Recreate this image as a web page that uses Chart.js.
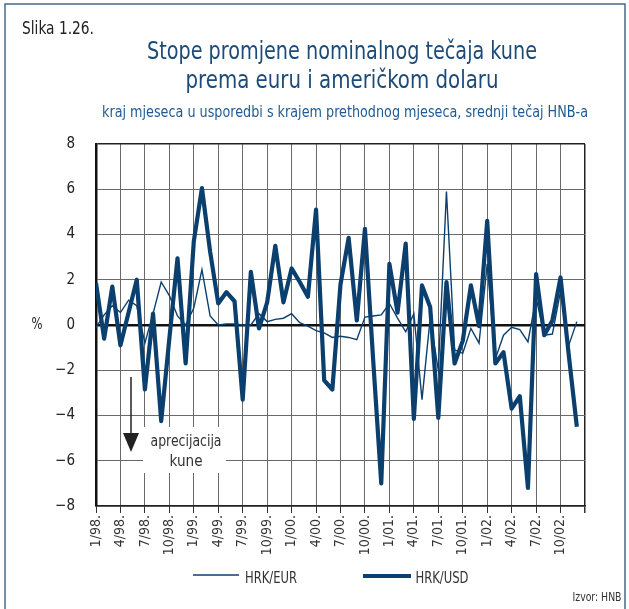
<!DOCTYPE html>
<html>
<head>
<meta charset="utf-8">
<script src="https://cdn.jsdelivr.net/npm/chart.js@4.4.1/dist/chart.umd.min.js"></script>
<style>
  html, body { margin: 0; padding: 0; background: #fff; }
  #wrap { position: relative; width: 629px; height: 609px; }
</style>
</head>
<body>
<div id="wrap"><canvas id="chart" width="629" height="609"></canvas></div>
<script>
// quarter tick labels (every 3rd month, last slot = 1/03 without label)
const tickLabels = ['1/98.', '4/98.', '7/98.', '10/98.', '1/99.', '4/99.', '7/99.', '10/99.',
    '1/00.', '4/00.', '7/00.', '10/00.', '1/01.', '4/01.', '7/01.', '10/01.',
    '1/02.', '4/02.', '7/02.', '10/02.', ''];

// monthly change, %, 1/98 - 12/02
const hrkEur = [-0.1, 0.45, 0.85, 0.55, 1.1, 0.85, -0.8, 0.5, 1.9, 1.3,
    0.4, 0.0, 0.75, 2.45, 0.4, 0.0, 0.05, 0.05, 0.0, 0.0,
    0.5, 0.15, 0.25, 0.3, 0.5, 0.1, -0.05, -0.25, -0.35, -0.55,
    -0.5, -0.55, -0.65, 0.35, 0.4, 0.45, 0.95, 0.3, -0.3, 0.5,
    -3.3, 0.3, -2.0, 5.9, -1.1, -1.25, -0.15, -0.8, 2.7, -1.5,
    -0.45, -0.1, -0.2, -0.75, 1.2, -0.45, -0.4, 1.5, -0.9, 0.15];

const hrkUsd = [1.85, -0.6, 1.7, -0.9, 0.55, 2.0, -2.85, 0.5, -4.25, -0.6,
    2.95, -1.7, 3.7, 6.05, 3.25, 0.95, 1.45, 1.05, -3.3, 2.35,
    -0.15, 1.0, 3.5, 1.0, 2.5, 1.9, 1.25, 5.1, -2.45, -2.85,
    1.8, 3.85, 0.2, 4.25, -1.5, -7.0, 2.7, 0.55, 3.6, -4.15,
    1.75, 0.8, -4.1, 1.9, -1.7, -0.7, 1.75, -0.05, 4.6, -1.7,
    -1.2, -3.7, -3.15, -7.2, 2.25, -0.45, 0.2, 2.1, -1.3, -4.5];

const seriesNames = ['HRK/EUR', 'HRK/USD'];
const lineColor = '#0b3f6e';
const narrow = "'Liberation Sans Narrow', 'DejaVu Sans Condensed', 'Roboto', sans-serif";

function toPoints(arr) {
    return arr.map((v, i) => ({ x: i, y: v }));
}

// draw text squeezed horizontally to a target width
function fitText(ctx, text, cx, cy, width, font, color) {
    ctx.save();
    ctx.font = font;
    ctx.fillStyle = color;
    ctx.textAlign = 'center';
    ctx.textBaseline = 'middle';
    const w = ctx.measureText(text).width;
    const s = width / w;
    ctx.translate(cx, cy);
    ctx.scale(s, 1);
    ctx.fillText(text, 0, 0);
    ctx.restore();
}

const decorPlugin = {
    id: 'decor',
    beforeDatasetsDraw(chart) {
        const ctx = chart.ctx;
        // annotation box over the grid
        ctx.save();
        ctx.fillStyle = '#fff';
        ctx.fillRect(143, 427, 83, 46);
        fitText(ctx, 'aprecijacija', 186, 442, 71, '16px ' + narrow, '#333');
        fitText(ctx, 'kune', 186, 462, 33, '16px ' + narrow, '#333');
        // arrow
        ctx.strokeStyle = '#222';
        ctx.lineWidth = 1.5;
        ctx.beginPath();
        ctx.moveTo(131, 377);
        ctx.lineTo(131, 440);
        ctx.stroke();
        ctx.fillStyle = '#222';
        ctx.beginPath();
        ctx.moveTo(123, 433);
        ctx.lineTo(139, 433);
        ctx.lineTo(131, 452);
        ctx.closePath();
        ctx.fill();
        ctx.restore();
    },
    afterDraw(chart) {
        const ctx = chart.ctx;
        ctx.save();
        // frame
        ctx.strokeStyle = '#4a6a88';
        ctx.lineWidth = 1.5;
        ctx.beginPath();
        ctx.moveTo(5, 609);
        ctx.lineTo(5, 4);
        ctx.lineTo(625, 4);
        ctx.lineTo(625, 609);
        ctx.stroke();

        fitText(ctx, 'Slika 1.26.', 58, 30, 72, '17px ' + narrow, '#222');
        fitText(ctx, 'Stope promjene nominalnog tečaja kune', 342, 52, 390, '25px ' + narrow, '#1d4b78');
        fitText(ctx, 'prema euru i američkom dolaru', 342, 81, 313, '25px ' + narrow, '#1d4b78');
        fitText(ctx, 'kraj mjeseca u usporedbi s krajem prethodnog mjeseca, srednji tečaj HNB-a', 345, 113, 486, '15px ' + narrow, '#1f5a94');
        fitText(ctx, '%', 37, 325, 11, '15px ' + narrow, '#222');

        // legend
        const ds = chart.data.datasets;
        ctx.strokeStyle = ds[0].borderColor;
        ctx.lineWidth = ds[0].borderWidth;
        ctx.beginPath();
        ctx.moveTo(193, 575);
        ctx.lineTo(239, 575);
        ctx.stroke();
        ctx.lineWidth = ds[1].borderWidth;
        ctx.beginPath();
        ctx.moveTo(363, 576);
        ctx.lineTo(411, 576);
        ctx.stroke();
        fitText(ctx, ds[0].label, 271, 579, 52, '16px ' + narrow, '#333');
        fitText(ctx, ds[1].label, 442, 579, 53, '16px ' + narrow, '#333');

        fitText(ctx, 'Izvor: HNB', 597, 598, 49, '12px ' + narrow, '#333');
        ctx.restore();
    }
};

const ctx = document.getElementById('chart').getContext('2d');
new Chart(ctx, {
    type: 'line',
    data: {
        datasets: [{
            label: seriesNames[0],
            data: toPoints(hrkEur),
            borderColor: lineColor,
            borderWidth: 1.4,
            pointRadius: 0,
            tension: 0,
            order: 2
        }, {
            label: seriesNames[1],
            data: toPoints(hrkUsd),
            borderColor: lineColor,
            borderWidth: 4.2,
            pointRadius: 0,
            tension: 0,
            borderJoinStyle: 'round',
            order: 1
        }]
    },
    options: {
        responsive: false,
        animation: false,
        layout: { padding: { top: 144, right: 44, bottom: 43, left: 0 } },
        plugins: {
            legend: { display: false },
            tooltip: { enabled: false }
        },
        scales: {
            x: {
                type: 'linear',
                min: 0,
                max: 60,
                afterFit: scale => { scale.height = 60; },
                afterBuildTicks: scale => {
                    scale.ticks = tickLabels.map((t, i) => ({ value: i * 3 }));
                },
                ticks: {
                    autoSkip: false,
                    maxRotation: 90,
                    minRotation: 90,
                    padding: 2,
                    color: '#333',
                    font: { family: narrow, size: 14 },
                    callback: v => tickLabels[Math.round(v / 3)]
                },
                grid: {
                    color: c => (c.tick && c.tick.value === 60) ? '#222' : '#6a6a6a',
                    lineWidth: c => (c.tick && c.tick.value === 60) ? 1.5 : 1,
                    tickColor: '#333',
                    tickLength: 7
                },
                border: { color: '#222', width: 1.5 }
            },
            y: {
                min: -8,
                max: 8,
                afterFit: scale => { scale.width = 96; },
                ticks: {
                    stepSize: 2,
                    padding: 21,
                    color: '#222',
                    font: { family: narrow, size: 15 },
                    callback: v => v < 0 ? '\u2212' + Math.abs(v) : String(v)
                },
                grid: {
                    drawTicks: false,
                    color: c => {
                        const v = c.tick && c.tick.value;
                        if (v === 0) return '#111';
                        if (v === 8 || v === -8) return '#222';
                        return '#6a6a6a';
                    },
                    lineWidth: c => {
                        const v = c.tick && c.tick.value;
                        if (v === 0) return 2.5;
                        if (v === 8 || v === -8) return 1.5;
                        return 1;
                    }
                },
                border: { color: '#111', width: 2.5 }
            }
        }
    },
    plugins: [decorPlugin]
});
</script>
</body>
</html>
